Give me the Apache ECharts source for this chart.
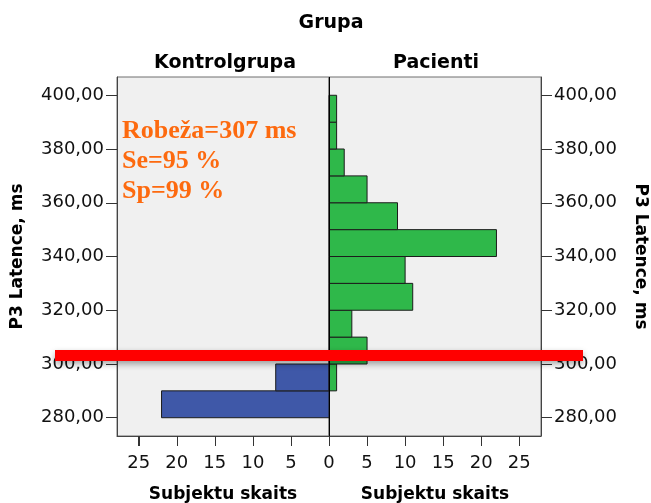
<!DOCTYPE html>
<html>
<head>
<meta charset="utf-8">
<script src="https://cdn.jsdelivr.net/npm/echarts@6/dist/echarts.min.js"></script>
<style>
html,body{margin:0;padding:0;background:#fff;}
#chart{width:651px;height:503px;}
</style>
</head>
<body>
<div id="chart"></div>
<script>
// ---- data ----
var binStarts = [280, 290, 300, 310, 320, 330, 340, 350, 360, 370, 380, 390];
var binWidth = 10;
var kontrolgrupa = [22, 7, 0, 0, 0, 0, 0, 0, 0, 0, 0, 0];
var pacienti = [0, 1, 5, 3, 11, 10, 22, 9, 5, 2, 1, 1];
var yTicks = [280, 300, 320, 340, 360, 380, 400];
var xTicks = [0, 5, 10, 15, 20, 25];
var yMin = 273.2, yMax = 406.8;
var xMax = 27.85;
var cutValue = 303.2;
var annotationLines = ['Robeža=307 ms', 'Se=95 %', 'Sp=99 %'];
var groupTitle = 'Grupa';
var groupNames = ['Kontrolgrupa', 'Pacienti'];
var yName = 'P3 Latence, ms';
var xName = 'Subjektu skaits';

function toItems(counts) {
  var out = [];
  for (var i = 0; i < counts.length; i++) {
    if (counts[i] > 0) out.push([counts[i], binStarts[i], binStarts[i] + binWidth]);
  }
  return out;
}
function makeRender(color) {
  return function (params, api) {
    var p0 = api.coord([0, api.value(1)]);
    var p1 = api.coord([api.value(0), api.value(2)]);
    return {
      type: 'rect',
      shape: {
        x: Math.min(p0[0], p1[0]), y: Math.min(p0[1], p1[1]),
        width: Math.abs(p1[0] - p0[0]), height: Math.abs(p1[1] - p0[1])
      },
      style: { fill: color, stroke: '#1c1c1c', lineWidth: 1 }
    };
  };
}
var FONT = '"DejaVu Sans", Arial, sans-serif';
function yFmt(v) { return v.toFixed(2).replace('.', ','); }

var chart = echarts.init(document.getElementById('chart'), null, { renderer: 'canvas' });
var axisLineStyle = { color: '#444', width: 1 };
function xAxisCfg(idx, inverse, labelVals) {
  return {
    type: 'value', gridIndex: idx, min: 0, max: xMax, inverse: inverse,
    axisLine: { show: true, onZero: false, lineStyle: axisLineStyle },
    axisTick: { show: true, inside: false, length: 10, lineStyle: { color: '#333', width: 1 }, customValues: xTicks },
    axisLabel: { show: true, margin: 18, fontSize: 18, color: '#111', fontFamily: FONT, customValues: labelVals },
    splitLine: { show: false },
    name: xName, nameLocation: 'middle', nameGap: 50,
    nameTextStyle: { fontSize: 17, fontWeight: 'bold', color: '#000', fontFamily: FONT }
  };
}
function yAxisCfg(idx, pos, rot) {
  return {
    type: 'value', gridIndex: idx, position: pos, min: yMin, max: yMax,
    axisLine: { show: true, onZero: false, lineStyle: axisLineStyle },
    axisTick: { show: true, inside: false, length: 11, lineStyle: { color: '#333', width: 1 }, customValues: yTicks },
    axisLabel: { show: true, margin: 13, fontSize: 18, color: '#111', fontFamily: FONT, formatter: yFmt, customValues: yTicks },
    splitLine: { show: false },
    name: yName, nameLocation: 'middle', nameGap: 91, nameRotate: rot,
    nameTextStyle: { fontSize: 17, fontWeight: 'bold', color: '#000', fontFamily: FONT }
  };
}

var option = {
  backgroundColor: '#ffffff',
  animation: false,
  title: [
    { text: groupTitle, left: 326, top: 9, textAlign: 'center',
      textStyle: { fontSize: 19, fontWeight: 'bold', color: '#000', fontFamily: FONT } },
    { text: groupNames[0], left: 220, top: 49, textAlign: 'center',
      textStyle: { fontSize: 19, fontWeight: 'bold', color: '#000', fontFamily: FONT } },
    { text: groupNames[1], left: 431, top: 49, textAlign: 'center',
      textStyle: { fontSize: 19, fontWeight: 'bold', color: '#000', fontFamily: FONT } }
  ],
  grid: [
    { left: 117, top: 77, width: 212, height: 359, show: true, backgroundColor: '#f0f0f0', borderColor: '#6e6e6e', borderWidth: 1, containLabel: false, outerBoundsMode: 'none' },
    { left: 329, top: 77, width: 212, height: 359, show: true, backgroundColor: '#f0f0f0', borderColor: '#6e6e6e', borderWidth: 1, containLabel: false, outerBoundsMode: 'none' }
  ],
  xAxis: [
    xAxisCfg(0, true, xTicks),
    xAxisCfg(1, false, xTicks.filter(function (v) { return v > 0; }))
  ],
  yAxis: [
    yAxisCfg(0, 'left', 90),
    yAxisCfg(1, 'right', -90)
  ],
  series: [
    { type: 'custom', name: groupNames[0], xAxisIndex: 0, yAxisIndex: 0,
      renderItem: makeRender('#3f58a8'), encode: { x: 0, y: [1, 2] }, data: toItems(kontrolgrupa) },
    { type: 'custom', name: groupNames[1], xAxisIndex: 1, yAxisIndex: 1,
      renderItem: makeRender('#2fb84a'), encode: { x: 0, y: [1, 2] }, data: toItems(pacienti),
      markLine: { silent: true, symbol: 'none', label: { show: false },
        lineStyle: { color: '#000', width: 1, type: 'solid' }, data: [{ xAxis: 0 }] } }
  ]
};
chart.setOption(option);

// x-axis tick marks placed through the library's own grid coordinate systems
var graphics = [];
[0, 1].forEach(function (gi) {
  xTicks.forEach(function (v) {
    var p = chart.convertToPixel({ gridIndex: gi }, [v, yMin]);
    if (!p || isNaN(p[0]) || isNaN(p[1])) return;
    graphics.push({ type: 'rect', z: 90, silent: true,
      shape: { x: Math.round(p[0]), y: Math.round(p[1]), width: 1, height: 10 },
      style: { fill: '#333' } });
  });
});

var cutY = chart.convertToPixel({ yAxisIndex: 0 }, cutValue);
graphics.push(
  { type: 'rect', left: 55, top: cutY - 5.5, z: 100,
    shape: { width: 528, height: 11 },
    style: { fill: '#ff0000', shadowBlur: 6, shadowColor: 'rgba(0,0,0,0.35)', shadowOffsetY: 3 } },
  { type: 'text', left: 122, top: 116, z: 100,
    style: { text: annotationLines.join('\n'), fill: '#fd6a0f', font: 'bold 26px "Liberation Serif", "Times New Roman", serif', lineHeight: 30 } }
);
chart.setOption({ graphic: graphics });
</script>
</body>
</html>
